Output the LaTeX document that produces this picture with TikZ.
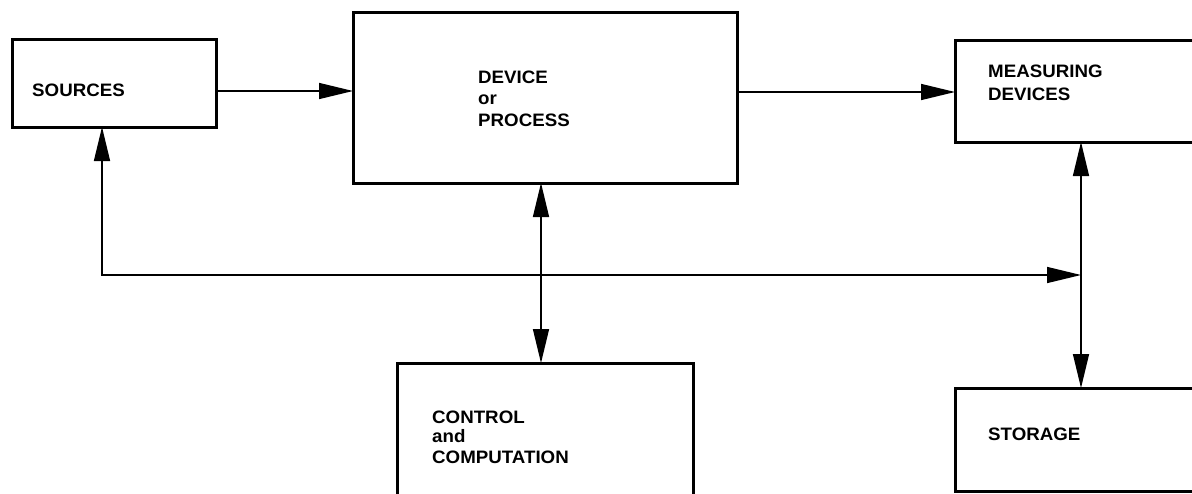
\documentclass[tikz,border=0pt]{standalone}
\usepackage{fontspec}
\setmainfont{Liberation Sans}[FakeStretch=1.04]
\usetikzlibrary{arrows.meta}
\begin{document}
\begin{tikzpicture}[x=1pt,y=-1pt,
  box/.style={draw, line width=3pt, rectangle, inner sep=0pt, outer sep=0pt},
  txt/.style={anchor=base west, inner sep=0pt, font=\fontsize{18}{21}\selectfont\bfseries},
  conn/.style={line width=1.5pt, -{Triangle[length=34pt,width=16pt]}},
  biconn/.style={line width=1.5pt, {Triangle[length=34pt,width=16pt]}-{Triangle[length=34pt,width=16pt]}}]
\useasboundingbox (0,0) rectangle (1192,493);
\clip (0,0) rectangle (1192,493);
% boxes
\node[box, minimum width=204pt, minimum height=88pt] (src) at (114,83) {};
\node[box, minimum width=384pt, minimum height=171pt] (dev) at (545,97.5) {};
\node[box, minimum width=305pt, minimum height=102pt] (meas) at (1107.5,91) {};
\node[box, minimum width=296pt, minimum height=167pt] (ctl) at (545,446.5) {};
\node[box, minimum width=305pt, minimum height=103.5pt] (sto) at (1107.5,439.75) {};
% texts
\node[txt] (srcT) at (32,96) {SOURCES};
\node[txt] (devT1) at (478,83) {DEVICE};
\node[txt] (devT2) at (478,104.5) {or};
\node[txt] (devT3) at (478,126) {PROCESS};
\node[txt] (measT1) at (988,77) {MEASURING};
\node[txt] (measT2) at (988,100) {DEVICES};
\node[txt] (ctlT1) at (432,423) {CONTROL};
\node[txt] (ctlT2) at (432,442) {and};
\node[txt] (ctlT3) at (432,463) {COMPUTATION};
\node[txt] (stoT) at (988,440) {STORAGE};
% helper coordinates
\coordinate (y1) at (0,91);
\coordinate (y2) at (0,92);
\coordinate (bl) at (102,275);
\coordinate (br) at (1081,275);
\coordinate (xc) at (541,0);
% connectors
\draw[conn] (src.east |- y1) -- (dev.west |- y1);
\draw[conn] (dev.east |- y2) -- (meas.west |- y2);
\draw[biconn] (src.south -| bl) -- (bl) -- (br);
\draw[biconn] (dev.south -| xc) -- (ctl.north -| xc);
\draw[biconn] (meas.south -| br) -- (sto.north -| br);
\end{tikzpicture}
\end{document}
